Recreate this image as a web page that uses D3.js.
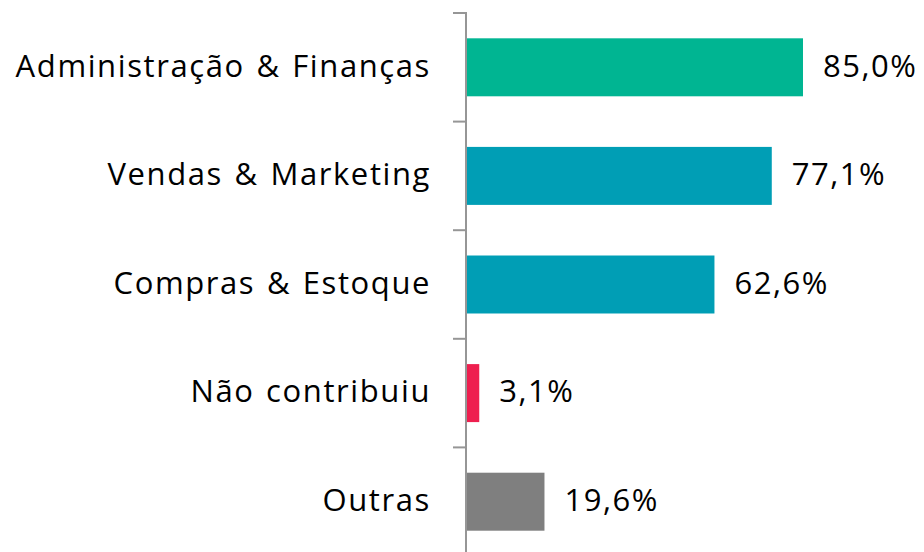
<!DOCTYPE html>
<html>
<head>
<meta charset="utf-8">
<script src="https://cdn.jsdelivr.net/npm/d3@7"></script>
<style>
  html, body { margin: 0; padding: 0; background: #fff; }
  svg { display: block; }
</style>
</head>
<body>
<div id="chart"></div>
<script>
const categories = ['Administração & Finanças', 'Vendas & Marketing', 'Compras & Estoque', 'Não contribuiu', 'Outras'];
const values = [85.0, 77.1, 62.6, 3.1, 19.6];
const colors = ['#00B592', '#009EB5', '#009EB5', '#EE1F4F', '#7F7F7F'];

const width = 924, height = 552;
const axisX = 466;
const fontFamily = "'Open Sans', sans-serif";
const fontSize = 31;

const svg = d3.select('#chart').append('svg')
    .attr('width', width)
    .attr('height', height);

const x = d3.scaleLinear().domain([0, 85]).range([axisX + 1, axisX + 337]);
const y = d3.scaleBand().domain(categories).range([13, 556]).paddingInner(0.466).paddingOuter(0.233);

const gap = y.step() - y.bandwidth();

// bars
svg.append('g').selectAll('rect')
    .data(categories).enter().append('rect')
    .attr('x', x(0))
    .attr('y', d => y(d))
    .attr('width', (d, i) => x(values[i]) - x(0))
    .attr('height', y.bandwidth())
    .attr('fill', (d, i) => colors[i]);

// axis line + ticks at band boundaries
const axis = svg.append('g').attr('stroke', '#969696').attr('stroke-width', 2);
axis.append('line').attr('x1', axisX).attr('x2', axisX).attr('y1', 12).attr('y2', height);
const tickYs = categories.map(d => y(d) - gap / 2);
axis.selectAll('line.tick').data(tickYs).enter().append('line')
    .attr('class', 'tick')
    .attr('x1', axisX - 13).attr('x2', axisX)
    .attr('y1', d => d).attr('y2', d => d);

// category labels
svg.append('g').selectAll('text')
    .data(categories).enter().append('text')
    .attr('x', 431)
    .attr('y', d => y(d) + y.bandwidth() / 2)
    .attr('dy', '0.3em')
    .attr('text-anchor', 'end')
    .attr('font-family', fontFamily)
    .attr('font-size', fontSize)
    .attr('letter-spacing', 1.6)
    .attr('word-spacing', 2)
    .attr('fill', '#000')
    .text(d => d);

// value labels
svg.append('g').selectAll('text')
    .data(categories).enter().append('text')
    .attr('x', (d, i) => x(values[i]) + 20)
    .attr('y', d => y(d) + y.bandwidth() / 2)
    .attr('dy', '0.3em')
    .attr('font-family', fontFamily)
    .attr('font-size', fontSize)
    .attr('letter-spacing', 1.5)
    .attr('fill', '#000')
    .text((d, i) => values[i].toFixed(1).replace('.', ',') + '%');
</script>
</body>
</html>
